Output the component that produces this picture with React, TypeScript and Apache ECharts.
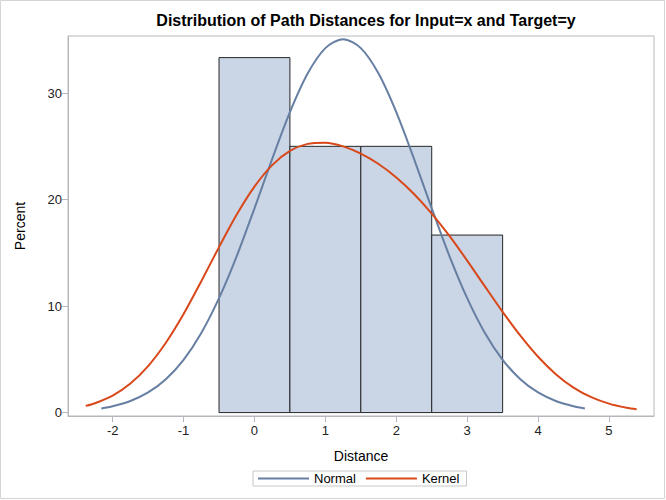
import React, { useEffect, useRef } from "react";
import * as echarts from "echarts";

const titleText = "Distribution of Path Distances for Input=x and Target=y";
const xTicks = [-2, -1, 0, 1, 2, 3, 4, 5];
const yTicks = [0, 10, 20, 30];

const binStart = [-0.5, 0.5, 1.5, 2.5];
const binEnd = [0.5, 1.5, 2.5, 3.5];
const binPercent = [33.33, 25.0, 25.0, 16.67];

const normalX = [-2.16, -2.0, -1.75, -1.5, -1.25, -1.0, -0.75, -0.5, -0.25, 0, 0.25, 0.5, 0.75, 1.0, 1.25, 1.5, 1.75, 2.0, 2.25, 2.5, 2.75, 3.0, 3.25, 3.5, 3.75, 4.0, 4.25, 4.5, 4.66];
const normalY = [0.39, 0.59, 1.09, 1.89, 3.14, 4.96, 7.48, 10.75, 14.7, 19.18, 23.82, 28.21, 31.83, 34.22, 35.05, 34.22, 31.83, 28.21, 23.82, 19.18, 14.7, 10.75, 7.48, 4.96, 3.14, 1.89, 1.09, 0.59, 0.39];

const kernelX = [-2.38, -2.25, -2.0, -1.75, -1.5, -1.25, -1.0, -0.75, -0.5, -0.25, 0, 0.25, 0.5, 0.75, 1.0, 1.25, 1.5, 1.75, 2.0, 2.25, 2.5, 2.75, 3.0, 3.25, 3.5, 3.75, 4.0, 4.25, 4.5, 4.75, 5.0, 5.25, 5.39];
const kernelY = [0.63, 0.88, 1.6, 2.73, 4.37, 6.56, 9.26, 12.34, 15.54, 18.6, 21.22, 23.24, 24.57, 25.23, 25.34, 25.0, 24.32, 23.34, 22.08, 20.53, 18.69, 16.59, 14.27, 11.85, 9.46, 7.22, 5.24, 3.61, 2.35, 1.45, 0.84, 0.45, 0.31];

const FONT = "'Liberation Sans', Arial, sans-serif";
const GRAY = "#b4b8bd";

export default function App() {
  const ref = useRef<HTMLDivElement>(null);
  useEffect(() => {
    document.body.style.margin = "0";
    const chart = echarts.init(ref.current!, null, { renderer: "svg" });
    const bins = binStart.map((s, i) => [s, binEnd[i], binPercent[i]]);
    chart.setOption({
      animation: false,
      textStyle: { fontFamily: FONT },
      title: {
        text: titleText,
        left: 361,
        textAlign: "center",
        top: 7,
        textStyle: { fontFamily: FONT, fontSize: 16, fontWeight: "bold", color: "#000" },
      },
      graphic: [
        {
          type: "rect",
          shape: { x: 0.5, y: 0.5, width: 664, height: 498 },
          style: { fill: "none", stroke: "#d4d4d4", lineWidth: 1 },
          silent: true,
        },
      ],
      legend: {
        left: 253,
        top: 471,
        orient: "horizontal",
        padding: [1, 7, 1, 5],
        borderColor: "#c8c8c8",
        borderWidth: 1,
        itemGap: 10,
        itemWidth: 51,
        itemHeight: 2,
        icon: "rect",
        textStyle: { fontFamily: FONT, fontSize: 13, color: "#000" },
        data: ["Normal", "Kernel"],
      },
      grid: {
        left: 68,
        right: 12,
        top: 36,
        bottom: 84,
        show: true,
        borderColor: GRAY,
        borderWidth: 1,
        backgroundColor: "transparent",
      },
      xAxis: {
        type: "value",
        min: -2.63,
        max: 5.635,
        name: "Distance",
        nameLocation: "middle",
        nameGap: 33,
        nameTextStyle: { fontFamily: FONT, fontSize: 14, color: "#000" },
        axisLine: { show: true, onZero: false, lineStyle: { color: GRAY } },
        axisTick: { show: true, length: 6, lineStyle: { color: GRAY }, customValues: xTicks },
        axisLabel: { customValues: xTicks, fontFamily: FONT, fontSize: 13, color: "#222", margin: 8 },
        splitLine: { show: false },
      },
      yAxis: {
        type: "value",
        min: -0.32,
        max: 35.36,
        name: "Percent",
        nameLocation: "middle",
        nameGap: 41,
        nameTextStyle: { fontFamily: FONT, fontSize: 14, color: "#000" },
        axisLine: { show: true, onZero: false, lineStyle: { color: GRAY } },
        axisTick: { show: true, length: 6, lineStyle: { color: GRAY }, customValues: yTicks },
        axisLabel: { customValues: yTicks, fontFamily: FONT, fontSize: 13, color: "#222", margin: 6 },
        splitLine: { show: false },
      },
      series: [
        {
          type: "custom",
          name: "Histogram",
          data: bins,
          encode: { x: [0, 1], y: 2 },
          renderItem: (params: any, api: any) => {
            const p0 = api.coord([api.value(0), api.value(2)]);
            const p1 = api.coord([api.value(1), 0]);
            return {
              type: "rect",
              shape: { x: p0[0], y: p0[1], width: p1[0] - p0[0], height: p1[1] - p0[1] },
              style: { fill: "#cad5e5", stroke: "#262626", lineWidth: 1 },
            };
          },
          z: 1,
        },
        {
          type: "line",
          name: "Normal",
          data: normalX.map((x, i) => [x, normalY[i]]),
          smooth: 0.3,
          showSymbol: false,
          symbol: "none",
          lineStyle: { color: "#667fa2", width: 2 },
          itemStyle: { color: "#667fa2" },
          z: 3,
        },
        {
          type: "line",
          name: "Kernel",
          data: kernelX.map((x, i) => [x, kernelY[i]]),
          smooth: 0.3,
          showSymbol: false,
          symbol: "none",
          lineStyle: { color: "#d9481a", width: 2 },
          itemStyle: { color: "#d9481a" },
          z: 4,
        },
      ],
    });
    return () => chart.dispose();
  }, []);
  return <div ref={ref} style={{ width: 666, height: 500 }} />;
}
